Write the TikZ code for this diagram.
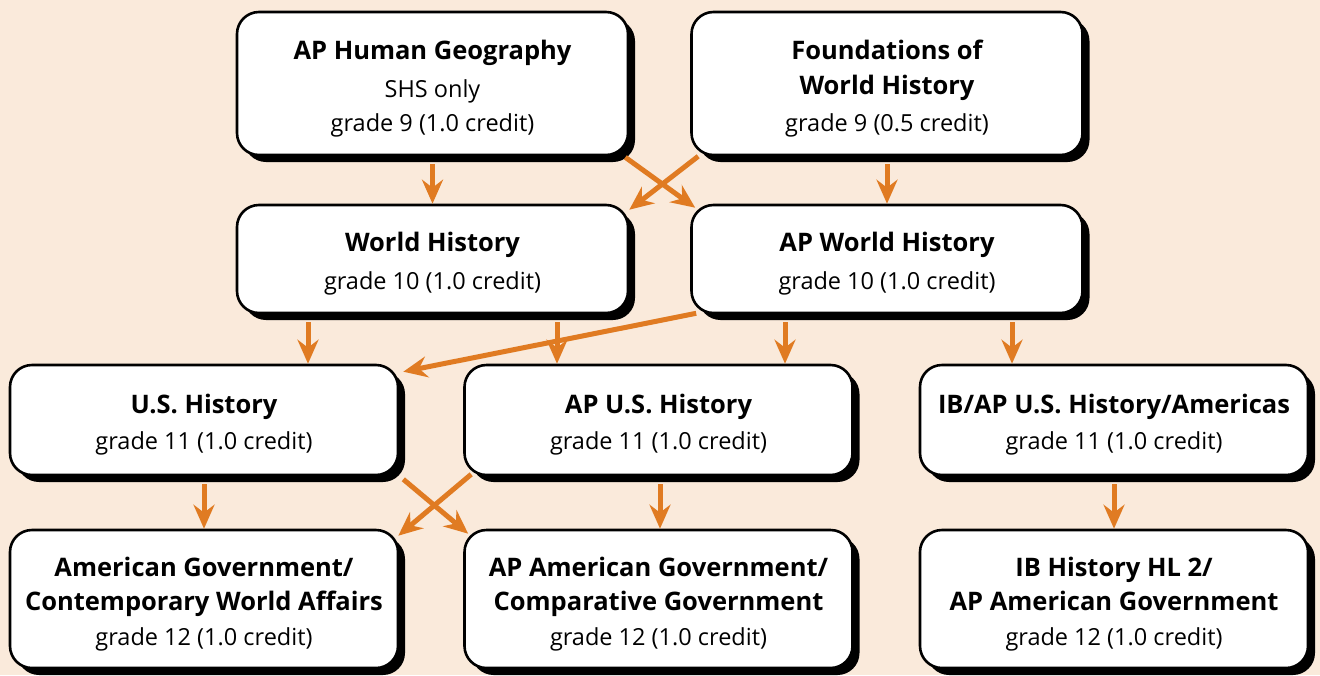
\documentclass[tikz,border=0pt]{standalone}
\usepackage{fontspec}
\setmainfont{Open Sans}
\usetikzlibrary{shadows,arrows.meta}
\definecolor{bgc}{HTML}{FAEADB}
\definecolor{arrc}{HTML}{E07B22}
\tikzset{
  course/.style={draw=black, line width=2.6pt, fill=white, rounded corners=22pt,
    align=center, inner sep=0pt,
    drop shadow={shadow xshift=7pt, shadow yshift=-7pt, opacity=1, fill=black},
    font=\fontsize{23.5}{36}\selectfont},
  arr/.style={draw=arrc, line width=5pt, -{Stealth[length=24pt,width=21pt,inset=8pt]}},
}
\newcommand{\ttl}[1]{{\fontsize{25.5}{36}\selectfont\bfseries #1}}
\newcommand{\topst}{\rule{0pt}{29pt}}
\begin{document}
\begin{tikzpicture}[x=1pt,y=-1pt]
\useasboundingbox (0,0) rectangle (1320,675);
\fill[bgc] (0,0) rectangle (1320,675);

\node[course, minimum width=391pt, minimum height=143pt] (aphg) at (432.5,83.5)
  {\topst\ttl{AP Human Geography}\\[2pt]SHS only\\[-2pt]grade 9 (1.0 credit)};
\node[course, minimum width=391pt, minimum height=143pt] (fwh) at (887,83.5)
  {\topst\ttl{Foundations of}\\[-1pt]\ttl{World History}\\[1pt]grade 9 (0.5 credit)};
\node[course, minimum width=391pt, minimum height=108pt] (wh) at (432.5,259)
  {\topst\ttl{World History}\\[2pt]grade 10 (1.0 credit)};
\node[course, minimum width=391pt, minimum height=108pt] (apwh) at (887,259)
  {\topst\ttl{AP World History}\\[2pt]grade 10 (1.0 credit)};
\node[course, minimum width=388pt, minimum height=110pt] (ush) at (204,420)
  {\topst\ttl{U.S. History}\\[0pt]grade 11 (1.0 credit)};
\node[course, minimum width=388pt, minimum height=110pt] (apush) at (658.5,420)
  {\topst\ttl{AP U.S. History}\\[0pt]grade 11 (1.0 credit)};
\node[course, minimum width=388pt, minimum height=110pt] (ibap) at (1114,420)
  {\topst\ttl{IB/AP U.S. History/Americas}\\[0pt]grade 11 (1.0 credit)};
\node[course, minimum width=388pt, minimum height=138pt] (amgov) at (204,599)
  {\topst\ttl{American Government/}\\[-2pt]\ttl{Contemporary World Affairs}\\[-1pt]grade 12 (1.0 credit)};
\node[course, minimum width=388pt, minimum height=138pt] (apamgov) at (658.5,599)
  {\topst\ttl{AP American Government/}\\[-2pt]\ttl{Comparative Government}\\[-1pt]grade 12 (1.0 credit)};
\node[course, minimum width=388pt, minimum height=138pt] (ibhl) at (1114,599)
  {\topst\ttl{IB History HL 2/}\\[-2pt]\ttl{AP American Government}\\[-1pt]grade 12 (1.0 credit)};

% row 1 -> row 2
\draw[arr] ([yshift=-8pt]aphg.south) -- (aphg.south |- wh.north);
\draw[arr] ([yshift=-8pt]fwh.south) -- (fwh.south |- apwh.north);
\draw[arr] ([shift={(-4pt,-1pt)}]aphg.south east) -- ([shift={(5pt,-4pt)}]apwh.north west);
\draw[arr] ([shift={(8pt,0pt)}]fwh.south west) -- ([shift={(0pt,-6pt)}]wh.north east);

% row 2 -> row 3
\draw[arr] ([shift={(-124.5pt,-8pt)}]wh.south) -- ([xshift=-124.5pt]wh.south |- ush.north);
\draw[arr] ([shift={(124.5pt,-8pt)}]wh.south) -- ([xshift=124.5pt]wh.south |- apush.north);
\draw[arr] ([shift={(-102pt,-8pt)}]apwh.south) -- ([xshift=-102pt]apwh.south |- apush.north);
\draw[arr] ([shift={(125pt,-8pt)}]apwh.south) -- ([xshift=125pt]apwh.south |- ibap.north);
\draw[arr] ([shift={(6pt,1pt)}]apwh.south west) -- ([shift={(4pt,-8pt)}]ush.north east);

% row 3 -> row 4
\draw[arr] ([yshift=-8pt]ush.south) -- (ush.south |- amgov.north);
\draw[arr] ([shift={(1.5pt,-8pt)}]apush.south) -- ([xshift=1.5pt]apush.south |- apamgov.north);
\draw[arr] ([yshift=-8pt]ibap.south) -- (ibap.south |- ibhl.north);
\draw[arr] ([shift={(4pt,-3pt)}]ush.south east) -- ([shift={(5pt,-5pt)}]apamgov.north west);
\draw[arr] ([shift={(8pt,2pt)}]apush.south west) -- ([shift={(-1pt,-7pt)}]amgov.north east);
\end{tikzpicture}
\end{document}
